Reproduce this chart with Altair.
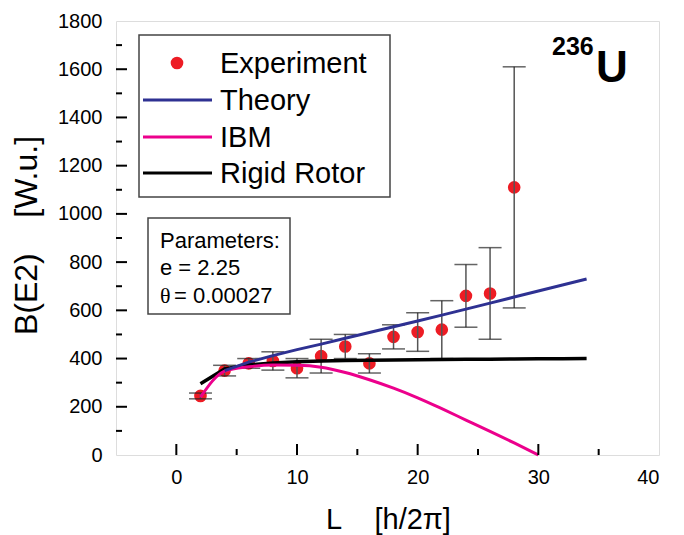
import altair as alt
import pandas as pd

# ---- data ----
L_exp = [2, 4, 6, 8, 10, 12, 14, 16, 18, 20, 22, 24, 26, 28]
B_exp = [245, 350, 380, 390, 360, 410, 450, 380, 490, 510, 520, 660, 670, 1110]
B_err = [12, 22, 20, 38, 40, 70, 50, 40, 50, 80, 120, 130, 190, 500]

L_theory = [4, 6, 8, 10, 12, 14, 16, 18, 20, 22, 24, 26, 28, 30, 32, 34]
B_theory = [350, 385, 412, 437, 460, 484, 508, 532, 556, 580, 605, 630, 655, 680, 705, 730]

L_ibm = [2, 4, 6, 8, 10, 12, 14, 16, 18, 20, 22, 24, 26, 28, 30]
B_ibm = [240, 348, 366, 373, 372, 364, 342, 312, 277, 237, 192, 145, 98, 50, 0]

L_rigid = [2, 4, 6, 8, 10, 12, 14, 16, 18, 20, 22, 24, 26, 28, 30, 32, 34]
B_rigid = [296, 357, 374, 382, 387, 390, 392, 393, 394, 395, 396, 397, 397, 398, 399, 399, 400]

x_major = [0, 10, 20, 30]
x_minor = [5, 15, 25, 35]
y_major = [200, 400, 600, 800, 1000, 1200, 1400, 1600]
y_minor = [100, 300, 500, 700, 900, 1100, 1300, 1500, 1700]
x_labels = [0, 10, 20, 30, 40]
y_labels = [0, 200, 400, 600, 800, 1000, 1200, 1400, 1600, 1800]

W, H = 543, 434
FONT = "Liberation Sans"
NB = "\u00a0"

exp_df = pd.DataFrame({
    "L": L_exp, "B": B_exp,
    "lo": [b - e for b, e in zip(B_exp, B_err)],
    "hi": [b + e for b, e in zip(B_exp, B_err)],
})
theory_df = pd.DataFrame({"L": L_theory, "B": B_theory})
ibm_df = pd.DataFrame({"L": L_ibm, "B": B_ibm})
rigid_df = pd.DataFrame({"L": L_rigid, "B": B_rigid})

xs = alt.Scale(domain=[-5, 40], nice=False, zero=False)
ys = alt.Scale(domain=[0, 1800], nice=False)
xaxis = alt.Axis(values=x_labels, format="d", ticks=False, domain=False, grid=False,
                 labelFontSize=20, labelFont=FONT, labelColor="black", labelPadding=12,
                 title="L" + NB * 4 + "[h/2\u03c0]", titleFontSize=29, titleFont=FONT,
                 titleFontWeight="normal", titleColor="black",
                 titleX=272, titleY=64, titleAlign="center", titleBaseline="middle")
yaxis = alt.Axis(values=y_labels, format="d", ticks=False, domain=False, grid=False,
                 labelFontSize=20, labelFont=FONT, labelColor="black", labelPadding=14,
                 title="B(E2)" + NB * 4 + "[W.u.]", titleFontSize=32, titleFont=FONT,
                 titleFontWeight="normal", titleColor="black", titleAngle=-90,
                 titleX=-90, titleY=214, titleAlign="center", titleBaseline="middle")


def X(f):
    return alt.X(f, type="quantitative", scale=xs, axis=xaxis)


def Y(f):
    return alt.Y(f, type="quantitative", scale=ys, axis=yaxis)


points = alt.Chart(exp_df).mark_circle(size=160, color="#ed1c24", opacity=1).encode(x=X("L"), y=Y("B"))
bars = alt.Chart(exp_df).mark_rule(color="#555555", strokeWidth=1.5).encode(x=X("L"), y=Y("lo"), y2="hi")
cap_lo = alt.Chart(exp_df).mark_tick(color="#222222", size=23, thickness=1.5, orient="horizontal").encode(x=X("L"), y=Y("lo"))
cap_hi = alt.Chart(exp_df).mark_tick(color="#222222", size=23, thickness=1.5, orient="horizontal").encode(x=X("L"), y=Y("hi"))

line_theory = alt.Chart(theory_df).mark_line(color="#2e3192", strokeWidth=3).encode(x=X("L"), y=Y("B"))
line_ibm = alt.Chart(ibm_df).mark_line(color="#ec008c", strokeWidth=3, interpolate="monotone").encode(x=X("L"), y=Y("B"))
line_rigid = alt.Chart(rigid_df).mark_line(color="black", strokeWidth=3.5).encode(x=X("L"), y=Y("B"))

tick_layers = [
    alt.Chart(pd.DataFrame({"v": x_major})).mark_rule(color="black", strokeWidth=2).encode(
        x=X("v"), y=alt.value(H), y2=alt.value(H - 11)),
    alt.Chart(pd.DataFrame({"v": x_minor})).mark_rule(color="black", strokeWidth=2).encode(
        x=X("v"), y=alt.value(H), y2=alt.value(H - 6)),
    alt.Chart(pd.DataFrame({"v": y_major})).mark_rule(color="black", strokeWidth=2).encode(
        y=Y("v"), x=alt.value(0), x2=alt.value(11)),
    alt.Chart(pd.DataFrame({"v": y_minor})).mark_rule(color="black", strokeWidth=2).encode(
        y=Y("v"), x=alt.value(0), x2=alt.value(6)),
]

one = pd.DataFrame({"a": [0]})


def box(x1, x2, y1, y2):
    return alt.Chart(one).mark_rect(fill="white", stroke="#444444", strokeWidth=1.5).encode(
        x=alt.value(x1), x2=alt.value(x2), y=alt.value(y1), y2=alt.value(y2))


def txt(s, x, y, size, weight="normal", font=FONT):
    return alt.Chart(one).mark_text(align="left", baseline="alphabetic", fontSize=size,
                                    font=font, fontWeight=weight, color="black").encode(
        x=alt.value(x), y=alt.value(y), text=alt.value(s))


def seg(color, y):
    return alt.Chart(one).mark_rule(color=color, strokeWidth=3).encode(
        x=alt.value(27), x2=alt.value(96), y=alt.value(y))


legend_layers = [
    box(23, 274, 14, 176),
    alt.Chart(one).mark_circle(size=160, color="#ed1c24", opacity=1).encode(x=alt.value(61), y=alt.value(42)),
    txt("Experiment", 104, 52, 29),
    seg("#2e3192", 79), txt("Theory", 104, 89, 29),
    seg("#ec008c", 116), txt("IBM", 104, 126, 29),
    seg("black", 152), txt("Rigid Rotor", 104, 162, 29),
]

param_layers = [
    box(32, 174, 197, 293),
    txt("Parameters:", 44, 227, 22),
    txt("e = 2.25", 44, 254, 22),
    txt("\u03b8", 44, 282, 22, font="Liberation Serif"),
    txt("= 0.00027", 58, 282, 22),
]

nucleus = [
    txt("236", 436, 34, 25, weight="bold"),
    txt("U", 480, 61, 44, weight="bold"),
]

chart = alt.layer(
    points, bars, cap_lo, cap_hi, line_rigid, line_ibm, line_theory,
    *tick_layers, *legend_layers, *param_layers, *nucleus
).properties(
    width=W, height=H,
    autosize=alt.AutoSizeParams(type="none"),
    padding={"left": 108, "top": 13, "right": 17, "bottom": 80},
).configure_view(stroke="black", strokeWidth=2.5).configure(background="white")

chart.save("out.html", embed_options={"renderer": "svg", "actions": False})
